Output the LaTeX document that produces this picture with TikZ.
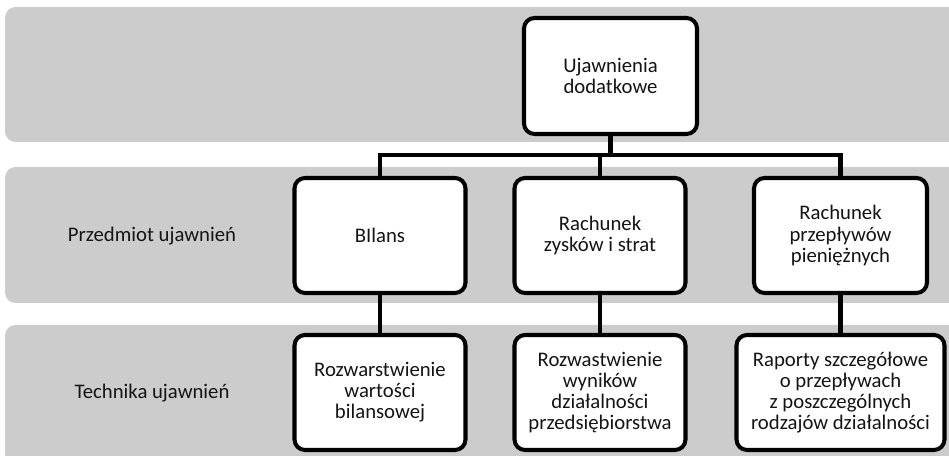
\documentclass[tikz,border=0pt]{standalone}
\usepackage{fontspec}
\setmainfont{Carlito}
\usepackage{xcolor}
\usepackage{tikz}
\usetikzlibrary{
arrows.meta,
positioning,
calc
}
\definecolor{bandgray}{RGB}{204,204,204}
\definecolor{boxline}{RGB}{0,0,0}
\definecolor{txtdark}{RGB}{20,20,20}

\begin{document}
\begin{tikzpicture}[
  every node/.style={font=\fontsize{11.8}{12}\selectfont, text=txtdark},
  band/.style={fill=bandgray, draw=none, rounded corners=6pt},
  item/.style={draw=boxline, fill=white, line width=2.3pt, rounded corners=6pt,
               minimum width=3.42cm, minimum height=2.3cm,
               align=center, inner sep=3pt},
  rowlabel/.style={align=center, inner sep=2pt},
  link/.style={draw=boxline, line width=2.3pt}
]
\useasboundingbox (0,0) rectangle (18.98,9.12);

%% Background bands
\fill[band] (0.1,6.28) rectangle (19.4,8.98);
\fill[band] (0.1,3.06) rectangle (19.4,5.78);
\fill[band] (0.1,-0.3) rectangle (19.4,2.62);

%% Row labels
\node[rowlabel] (subj) at (3.04,4.40) {Przedmiot ujawnień};
\node[rowlabel] (tech) at (3.04,1.26) {Technika ujawnień};

%% ── ROOT (top) ───────────────────────────────────────────────
\node[item, minimum width=3.46cm, minimum height=2.32cm] (root) at (12.21,7.60)
  {Ujawnienia\\dodatkowe};

%% ── SUBJECT OF DISCLOSURE (middle row) ───────────────────────
\node[item] (bal) at (7.60,4.41) {BIlans};
\node[item] (pnl) at (12.00,4.41) {Rachunek\\zysków i strat};
\node[item, minimum width=3.46cm] (cash) at (16.81,4.41)
  {Rachunek\\przepływów\\pieniężnych};

%% ── DISCLOSURE TECHNIQUE (bottom row) ────────────────────────
\node[item] (balx) at (7.60,1.27)
  {Rozwarstwienie\\wartości\\bilansowej};
\node[item] (pnlx) at (12.00,1.27)
  {Rozwastwienie\\wyników\\działalności\\przedsiębiorstwa};
\node[item, minimum width=4.16cm] (cashx) at (16.81,1.27)
  {Raporty szczegółowe\\o przepływach\\z poszczególnych\\rodzajów działalności};

%% Connectors
\coordinate (bus) at (12.21,6.02);
\draw[link] (root.south) -- (bus);
\draw[link] (bal.north) |- (bus) -| (cash.north);
\draw[link] (pnl.north) -- (pnl.north |- bus);

\draw[link] (bal.south) -- (balx.north);
\draw[link] (pnl.south) -- (pnlx.north);
\draw[link] (cash.south) -- (cashx.north);

\end{tikzpicture}
\end{document}
